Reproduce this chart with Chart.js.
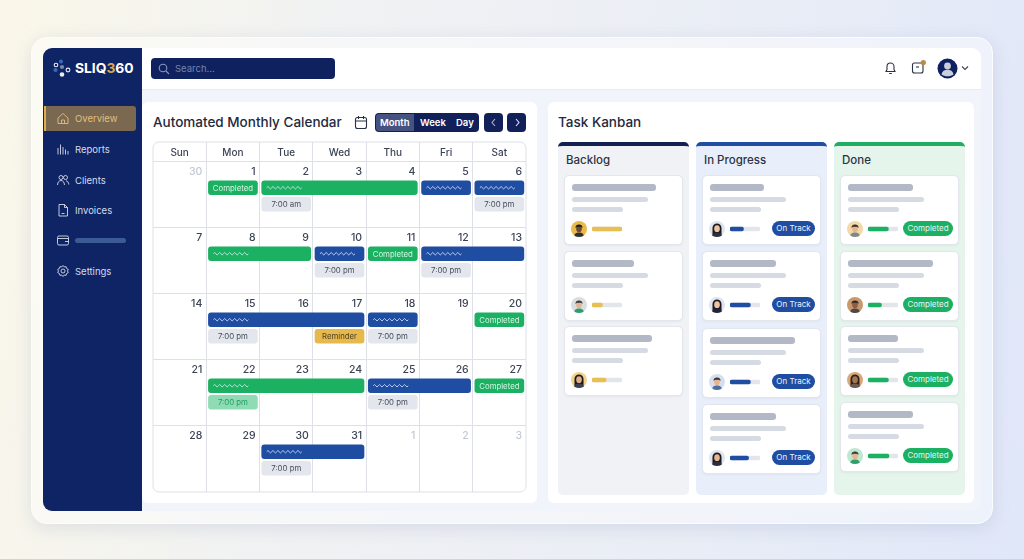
<!DOCTYPE html>
<html>
<head>
<meta charset="utf-8">
<title>SLIQ360</title>
<script src="https://cdn.jsdelivr.net/npm/chart.js@4"></script>
<style>
html,body{margin:0;padding:0;width:1024px;height:559px;overflow:hidden;font-family:Inter,"Noto Sans",sans-serif;}
body{position:relative;background:linear-gradient(100deg,#faf7e9 0%,#f1f2f3 30%,#e9edf6 70%,#e0e7f9 100%);}
.abs{position:absolute;}
#frame{left:31px;top:37px;width:960px;height:485px;border-radius:16px;background:rgba(255,255,255,.42);border:1px solid #fbfcfd;box-shadow:0 4px 18px rgba(120,135,170,.2);}
#inner{left:43px;top:48px;width:938px;height:463px;border-radius:9px;background:#f1f4fa;overflow:hidden;}
#side{left:43px;top:48px;width:99px;height:463px;background:#0f2464;border-radius:9px 0 0 9px;}
#top{left:142px;top:48px;width:839px;height:41px;background:#fff;border-radius:0 9px 0 0;border-bottom:1px solid #e9ecf2;}
#search{left:151px;top:58px;width:184px;height:21px;background:#10215f;border-radius:4px;color:#7384ad;font-size:9.5px;line-height:21px;text-indent:24px;}
.logo{left:75px;top:58px;color:#fff;font-size:13.8px;font-weight:700;line-height:21px;}
.logo b{color:#d8a94e;font-weight:700;}
.nav{left:75px;color:#d5dbea;font-size:9.5px;line-height:15px;}
.navic{left:56px;width:14px;height:14px;}
#ovr{left:44px;top:106px;width:92px;height:25px;background:#7a6950;border-radius:0 3px 3px 0;border-left:2px solid #dcae4c;box-sizing:border-box;}
.panel{background:#fff;border-radius:6px;top:102px;height:401px;}
.h1{color:#1f2a40;font-size:13.5px;font-weight:500;line-height:18px;top:113px;white-space:nowrap;}
#seg{left:375px;top:113px;width:104px;height:19px;background:#12205a;border-radius:4px;}
#segm{left:376px;top:114px;width:38px;height:17px;background:#46527f;border-radius:3px 0 0 3px;}
.segt{top:113px;color:#fff;font-size:9.5px;font-weight:600;line-height:19px;}
.nb{top:113px;width:19px;height:19px;background:#12205a;border-radius:4px;}
.col{top:142px;width:131px;height:353px;border-radius:5px;box-sizing:border-box;border-top:4px solid;}
.colh{top:153px;color:#2b3245;font-size:11.5px;font-weight:500;line-height:15px;}
.card{width:119px;background:#fff;border:1px solid #e3e6ec;border-radius:5px;box-sizing:border-box;box-shadow:0 1px 2px rgba(90,100,130,.08);}
.sk{position:absolute;left:7px;border-radius:3px;}
.badge{position:absolute;top:45px;height:15px;border-radius:8px;color:#e9f2ff;font-size:8px;line-height:15.500px;text-align:center;white-space:nowrap;}
.ava{position:absolute;left:6px;top:45px;width:16px;height:16px;}
.pb{position:absolute;left:27px;top:50px;width:30px;height:6px;}
</style>
</head>
<body>
<div class="abs" id="frame"></div>
<div class="abs" id="inner"></div>
<div class="abs" id="side"></div>
<div class="abs" id="top"></div>
<svg class="abs" style="left:53px;top:59px" width="19" height="19" viewBox="0 0 19 19">
<circle cx="8" cy="2.5" r="2" fill="#3c68b8"/><circle cx="3" cy="6" r="1.8" fill="none" stroke="#e8ecf5" stroke-width="1.1"/>
<circle cx="2.5" cy="11" r="2.1" fill="#3c68b8"/><circle cx="9" cy="8" r="2.1" fill="#7b88a8"/>
<circle cx="15" cy="11" r="1.9" fill="none" stroke="#e8ecf5" stroke-width="1.1"/><circle cx="9" cy="15.5" r="2.3" fill="#e8ecf5"/>
</svg>
<div class="abs logo">SLIQ<b>3</b>60</div>
<div class="abs" id="search">Search...</div>
<svg class="abs" style="left:158px;top:63px" width="12" height="12" viewBox="0 0 12 12" fill="none" stroke="#8a9ac0" stroke-width="1.1"><circle cx="5" cy="5" r="3.8"/><path d="M8 8l3 3"/></svg>
<div class="abs" id="ovr"></div>
<div id="navs"></div>

<svg class="abs" style="left:884px;top:61px" width="13" height="14" viewBox="0 0 13 14" fill="none" stroke="#2b3245" stroke-width="1.1"><path d="M2 10.5h9L10 8.5V5.5a3.5 3.5 0 0 0-7 0v3zM5.2 12.5h2.6"/></svg>
<svg class="abs" style="left:911px;top:59px" width="16" height="16" viewBox="0 0 16 16" fill="none" stroke="#2b3245" stroke-width="1.1"><rect x="1.5" y="4" width="10.5" height="10" rx="2"/><path d="M5 8h3"/><circle cx="12.3" cy="3.5" r="2.6" fill="#b98a4a" stroke="none"/></svg>
<svg class="abs" style="left:937px;top:58px" width="21" height="21" viewBox="0 0 21 21"><circle cx="10.5" cy="10.5" r="10" fill="#10215f"/><circle cx="10.5" cy="8" r="3.4" fill="#c9cfdc"/><path d="M4.5 16.5c.6-3.4 3-4.8 6-4.8s5.400 1.400 6 4.800c-3 2.400-9 2.400-12 0z" fill="#c9cfdc"/></svg>
<svg class="abs" style="left:961px;top:65px" width="8" height="6" viewBox="0 0 8 6" fill="none" stroke="#3b4254" stroke-width="1.1"><path d="M1 1.500l3 3 3-3"/></svg>

<div class="abs panel" style="left:142px;width:395px"></div>
<div class="abs panel" style="left:548px;width:426px"></div>
<div class="abs h1" style="left:153px">Automated Monthly Calendar</div>
<svg class="abs" style="left:354px;top:115px" width="14" height="15" viewBox="0 0 14 15" fill="none" stroke="#2b3245" stroke-width="1.1"><rect x="1.500" y="2.500" width="11" height="11" rx="2"/><path d="M1.500 6h11M4.500 1v3M9.500 1v3"/></svg>
<div class="abs" id="seg"></div><div class="abs" id="segm"></div>
<div class="abs segt" style="left:380px">Month</div>
<div class="abs segt" style="left:420px">Week</div>
<div class="abs segt" style="left:456px">Day</div>
<div class="abs nb" style="left:484px"></div><div class="abs nb" style="left:507px"></div>
<svg class="abs" style="left:490px;top:118px" width="7" height="9" viewBox="0 0 7 9" fill="none" stroke="#aeb8d6" stroke-width="1.100"><path d="M5 1L2 4.500 5 8"/></svg>
<svg class="abs" style="left:514px;top:118px" width="7" height="9" viewBox="0 0 7 9" fill="none" stroke="#dfe4f2" stroke-width="1.100"><path d="M2 1l3 3.500L2 8"/></svg>
<div class="abs" style="left:152px;top:141px;width:375px;height:352px"><canvas id="calendar"></canvas></div>

<div class="abs h1" style="left:558px">Task Kanban</div>
<div id="board"></div>

<script>
// CALENDAR
const weekdays = ['Sun','Mon','Tue','Wed','Thu','Fri','Sat'];
const dayNumbers = [30,1,2,3,4,5,6, 7,8,9,10,11,12,13, 14,15,16,17,18,19,20, 21,22,23,24,25,26,27, 28,29,30,31,1,2,3];
const mutedDays = [0,32,33,34];

const eventWeek  = [0,0,0,0,0,0, 1,1,1,1,1,1, 2,2,2,2,2,2, 3,3,3,3,3, 4,4];
const eventSlot  = [0,0,0,0,1,1, 0,0,0,0,1,1, 0,0,0,1,1,1, 0,0,0,1,1, 0,1];
const eventStart = [1,2,5,6,2,6, 1,3,4,5,3,5, 1,4,6,1,3,4, 1,4,6,1,4, 2,2];
const eventEnd   = [2,5,6,7,3,7, 3,4,5,7,4,6, 4,5,7,2,4,5, 4,6,7,2,5, 4,3];
const eventKind  = ['green','green','blue','blue','grey','grey',
                    'green','blue','green','blue','grey','grey',
                    'blue','blue','green','grey','yellow','grey',
                    'green','blue','green','mint','grey',
                    'blue','grey'];
const eventLabel = ['Completed','','','','7:00 am','7:00 pm',
                    '','','Completed','','7:00 pm','7:00 pm',
                    '','','Completed','7:00 pm','Reminder','7:00 pm',
                    '','','Completed','7:00 pm','7:00 pm',
                    '','7:00 pm'];

const kindFill = {green:'#1bb062',blue:'#1f4da2',grey:'#e3e6ec',yellow:'#e6b94d',mint:'#8fdcb4'};
const kindText = {green:'#d6f5e3',blue:'#ffffff',grey:'#444b5c',yellow:'#4d4023',mint:'#1c9e5c'};
const slotOffset = [0.39,0.64];
const inset = 0.04;

const datasets = Object.keys(kindFill).map(function(kind){
    const points = [];
    const labels = [];
    eventKind.forEach(function(k,i){
        if (k !== kind) return;
        points.push({x:[eventStart[i]+inset, eventEnd[i]-inset], y:eventWeek[i]+slotOffset[eventSlot[i]]});
        labels.push(eventLabel[i]);
    });
    return {label:kind, data:points, eventLabels:labels, backgroundColor:kindFill[kind],
        barThickness:14, borderRadius:3, borderSkipped:false, grouped:false};
});

function squiggle(ctx,x,y,w){
    ctx.save();
    ctx.strokeStyle = '#e8f0ff';
    ctx.lineWidth = 0.8;
    ctx.beginPath();
    ctx.moveTo(x,y);
    for (let i=0;i<w;i+=5){
        ctx.quadraticCurveTo(x+i+1.25,y-2.4,x+i+2.5,y);
        ctx.quadraticCurveTo(x+i+3.75,y+2.4,x+i+5,y);
    }
    ctx.stroke();
    ctx.restore();
}

const calendarText = {
    id:'calendarText',
    beforeDatasetsDraw(chart){
        const {ctx,chartArea:a} = chart;
        ctx.save();
        ctx.strokeStyle = '#dde0e6';
        ctx.lineWidth = 1;
        ctx.beginPath();
        ctx.roundRect(a.left,a.top,a.right-a.left,a.bottom-a.top,6);
        ctx.stroke();
        ctx.restore();
    },
    afterDatasetsDraw(chart){
        const {ctx,scales:{x,y}} = chart;
        ctx.save();
        ctx.textBaseline = 'middle';
        ctx.textAlign = 'center';
        ctx.font = '500 10px Inter';
        ctx.fillStyle = '#3c4355';
        weekdays.forEach(function(d,i){ ctx.fillText(d,x.getPixelForValue(i+0.5),y.getPixelForValue(-0.13)); });
        ctx.textAlign = 'right';
        ctx.font = '500 10.5px Inter';
        dayNumbers.forEach(function(n,i){
            ctx.fillStyle = mutedDays.includes(i) ? '#c3c8d2' : '#3c4355';
            ctx.fillText(n,x.getPixelForValue(i%7+1)-4,y.getPixelForValue(Math.floor(i/7)+0.155));
        });
        chart.data.datasets.forEach(function(ds,di){
            chart.getDatasetMeta(di).data.forEach(function(bar,i){
                const text = ds.eventLabels[i];
                const left = Math.min(bar.x,bar.base);
                const right = Math.max(bar.x,bar.base);
                if (text){
                    ctx.textAlign = 'center';
                    ctx.font = '7.8px Inter';
                    ctx.fillStyle = kindText[ds.label];
                    ctx.fillText(text,(left+right)/2,bar.y+0.5);
                } else {
                    squiggle(ctx,left+5,bar.y,34);
                }
            });
        });
        ctx.restore();
    }
};

new Chart(document.getElementById('calendar').getContext('2d'), {
    type:'bar',
    data:{datasets:datasets},
    plugins:[calendarText],
    options:{
        indexAxis:'y',
        responsive:true,
        maintainAspectRatio:false,
        animation:false,
        layout:{padding:1},
        plugins:{legend:{display:false},tooltip:{enabled:false}},
        scales:{
            x:{type:'linear',min:0,max:7,position:'top',
                afterBuildTicks(s){ s.ticks=[1,2,3,4,5,6].map(function(v){return {value:v};}); },
                ticks:{display:false},grid:{color:'#dde0e6',drawTicks:false},border:{display:false}},
            y:{type:'linear',reverse:true,min:-0.303,max:5,offset:false,
                afterBuildTicks(s){ s.ticks=[0,1,2,3,4].map(function(v){return {value:v};}); },
                ticks:{display:false},grid:{color:'#dde0e6',drawTicks:false,offset:false},border:{display:false}}
        }
    }
});

// KANBAN
const columnNames  = ['Backlog','In Progress','Done'];
const columnLeft   = [558,696,834];
const columnTop    = ['#14204f','#1f4ea3','#1fae62'];
const columnBg     = ['#f0f2f6','#e8effa','#e5f5ec'];
const barColor     = ['#e8bf52','#1f4da2','#1bb062'];
const badgeText    = ['','On Track','Completed'];
const cardTops     = [[175,251,326],[175,251,328,404],[175,251,326,402]];
const titleWidths  = [[84,62,80],[54,66,85,66],[65,85,50,65]];
const progress     = [[100,35,47],[45,68,68,62],[68,45,68,70]];
// background, skin, hair, shirt, long hair
const avatars = [
    [['#e9b94a','#6e4a30','#1c1a1c','#2c2f3a',0],['#d9dde4','#e6b48e','#33302f','#2f9e6a',0],['#f0d489','#e0ae86','#1c1a1c','#3a3f52',1]],
    [['#dfe5f0','#eec3a3','#1d1b20','#2a2f40',1],['#dfe5f0','#eec3a3','#1d1b20','#20243a',1],['#d8dfec','#e6b48e','#2a2a30','#4a6ea0',0],['#dfe5f0','#e6b48e','#1d1b20','#2a2f40',1]],
    [['#f3d9a8','#e8b48c','#2a2320','#7a8a90',0],['#c79a6e','#8a5f42','#2a2320','#50454a',0],['#d9a878','#a8744e','#2a2320','#6a5a50',1],['#bfe8d0','#e6b48e','#2a3034','#2f9e6a',0]]
];

function avatarSvg(a){
    const hair = a[4]
        ? '<path d="M3.700 16V7.500a4.800 4.800 0 0 1 9.600 0V16z" fill="'+a[2]+'"/>'
        : '<path d="M4.700 7.500a3.800 3.800 0 0 1 7.600 0l-1 -1.200h-5.600z" fill="'+a[2]+'"/>';
    return '<svg class="ava" viewBox="0 0 17 17"><clipPath id="c"><circle cx="8.500" cy="8.500" r="8.500"/></clipPath><g clip-path="url(#c)">'
        +'<rect width="17" height="17" fill="'+a[0]+'"/>'+hair
        +'<path d="M3 17c.3-3.500 2.500-4.800 5.500-4.800s5.200 1.300 5.500 4.800z" fill="'+a[3]+'"/>'
        +'<ellipse cx="8.500" cy="8.200" rx="3" ry="3.600" fill="'+a[1]+'"/>'
        +(a[4] ? '' : '<path d="M5.300 7.300a3.200 3 0 0 1 6.400 0l-.8-1.300h-4.800z" fill="'+a[2]+'"/>')
        +'</g></svg>';
}

const board = document.getElementById('board');
columnNames.forEach(function(name,c){
    let html = '<div class="abs col" style="left:'+columnLeft[c]+'px;background:'+columnBg[c]+';border-top-color:'+columnTop[c]+'"></div>'
        +'<div class="abs colh" style="left:'+(columnLeft[c]+8)+'px">'+name+'</div>';
    cardTops[c].forEach(function(top,i){
        html += '<div class="abs card" style="left:'+(columnLeft[c]+6)+'px;top:'+top+'px;height:70px">'
            +'<div class="sk" style="top:8px;height:7px;width:'+titleWidths[c][i]+'px;background:#b3b8c6"></div>'
            +'<div class="sk" style="top:21px;height:5px;width:76px;background:#d6dae2"></div>'
            +'<div class="sk" style="top:31px;height:5px;width:51px;background:#d6dae2"></div>'
            +avatarSvg(avatars[c][i])
            +'<div class="pb"><canvas id="pb'+c+'_'+i+'"></canvas></div>'
            +(badgeText[c] ? '<div class="badge" style="right:5px;width:'+(c==1?43:50)+'px;background:'+barColor[c]+'">'+badgeText[c]+'</div>' : '')
            +'</div>';
    });
    board.insertAdjacentHTML('beforeend',html);
});

columnNames.forEach(function(name,c){
    progress[c].forEach(function(value,i){
        new Chart(document.getElementById('pb'+c+'_'+i).getContext('2d'),{
            type:'bar',
            data:{labels:[name],datasets:[
                {data:[value],backgroundColor:barColor[c],borderRadius:2,borderSkipped:false,grouped:false,order:1},
                {data:[100],backgroundColor:'#e2e5ea',borderRadius:2,borderSkipped:false,grouped:false,order:2}
            ]},
            options:{
                indexAxis:'y',responsive:true,maintainAspectRatio:false,animation:false,
                datasets:{bar:{barThickness:4}},
                plugins:{legend:{display:false},tooltip:{enabled:false}},
                scales:{x:{display:false,min:0,max:100},y:{display:false}}
            }
        });
    });
});

// SIDEBAR
const navLabels = ['Overview','Reports','Clients','Invoices','','Settings'];
const navCenter = [118,149,180,210,240,271];
const navIcons = [
    '<path d="M2 7l5-4.500L12 7v5.500H2zM5.500 12.500V9h3v3.500"/>',
    '<path d="M2 12.500V6M4.500 12.500V2.500M7 12.500V5M9.500 12.500V7.500M12 12.500V9"/>',
    '<circle cx="5" cy="4.500" r="2"/><circle cx="9.500" cy="4.500" r="2"/><path d="M1.500 12c.2-3 1.700-4.500 3.500-4.500S8.300 9 8.500 12M10 7.800c1.700.2 2.600 1.800 2.800 3.700"/>',
    '<path d="M3 1.500h5.500L11.500 4.500v8.500H3zM8.500 1.500v3h3M5.500 10.500h3"/>',
    '<rect x="1.500" y="3" width="11" height="9" rx="1.500"/><path d="M1.500 5.500h11M9 8.500h3.500"/>',
    '<circle cx="7" cy="7" r="2"/><path d="M7 1.500l1.200 1.400 1.900-.2.500 1.800 1.700.9-.8 1.600.8 1.600-1.700.9-.5 1.800-1.900-.2L7 12.500l-1.200-1.400-1.900.2-.5-1.800-1.700-.9.8-1.600-.8-1.600 1.700-.9.500-1.800 1.900.2z"/>'
];
const navs = document.getElementById('navs');
navLabels.forEach(function(label,i){
    const stroke = i === 0 ? '#e0bf80' : '#d5dbea';
    navs.insertAdjacentHTML('beforeend',
        '<svg class="abs navic" style="top:'+(navCenter[i]-7)+'px" viewBox="0 0 14 14" fill="none" stroke="'+stroke+'" stroke-width="0.9">'+navIcons[i]+'</svg>'
        +(label ? '<div class="abs nav" style="top:'+(navCenter[i]-7)+'px;color:'+stroke+'">'+label+'</div>'
                : '<div class="abs" style="left:75px;top:'+(navCenter[i]-2.500)+'px;width:51px;height:5px;border-radius:3px;background:#3c5a93"></div>'));
});
</script>
</body>
</html>
